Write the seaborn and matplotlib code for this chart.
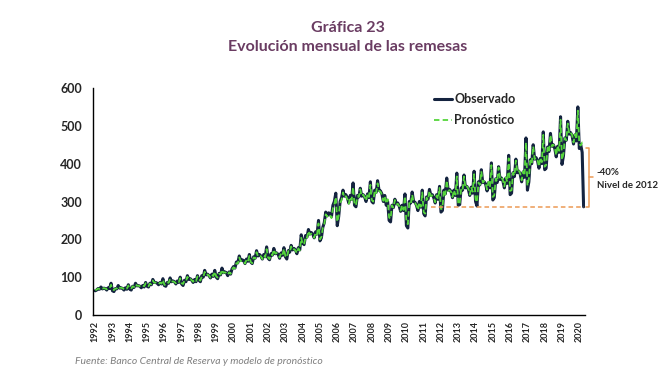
import numpy as np
import pandas as pd
import matplotlib
matplotlib.use("Agg")
import matplotlib.pyplot as plt
import seaborn as sns

# monthly remittances (millions US$), Jan..Dec
observado_por_anio = {
    1992: [64, 66, 70, 68, 74, 69, 71, 70, 66, 72, 70, 84],
    1993: [64, 62, 70, 69, 78, 71, 72, 70, 66, 72, 68, 80],
    1994: [68, 66, 76, 73, 84, 77, 78, 76, 72, 78, 74, 86],
    1995: [76, 74, 84, 80, 94, 86, 86, 84, 80, 86, 82, 96],
    1996: [78, 76, 86, 84, 98, 88, 90, 88, 82, 90, 86, 100],
    1997: [82, 78, 92, 88, 104, 94, 96, 92, 86, 94, 88, 104],
    1998: [92, 88, 104, 100, 118, 106, 108, 104, 98, 108, 102, 118],
    1999: [100, 96, 110, 106, 124, 112, 114, 112, 104, 114, 108, 122],
    2000: [128, 124, 140, 138, 156, 144, 146, 144, 136, 148, 142, 160],
    2001: [140, 136, 154, 150, 170, 156, 160, 156, 148, 160, 154, 180],
    2002: [150, 146, 162, 158, 176, 162, 164, 160, 150, 164, 158, 178],
    2003: [154, 148, 170, 166, 184, 172, 176, 172, 162, 178, 172, 212],
    2004: [190, 186, 210, 206, 226, 214, 218, 214, 204, 220, 214, 250],
    2005: [196, 204, 232, 244, 272, 262, 270, 268, 260, 290, 300, 322],
    2006: [236, 260, 300, 310, 330, 314, 318, 310, 296, 316, 306, 349],
    2007: [290, 286, 316, 312, 335, 314, 318, 312, 300, 320, 310, 352],
    2008: [300, 296, 330, 324, 355, 330, 328, 320, 300, 316, 290, 300],
    2009: [250, 246, 290, 284, 306, 294, 296, 288, 274, 290, 276, 320],
    2010: [236, 230, 300, 296, 325, 300, 298, 290, 276, 300, 285, 330],
    2011: [268, 262, 312, 306, 332, 316, 318, 310, 296, 318, 306, 340],
    2012: [272, 276, 330, 320, 362, 330, 332, 326, 310, 330, 316, 375],
    2013: [290, 292, 336, 330, 370, 336, 340, 332, 316, 338, 322, 380],
    2014: [300, 288, 352, 344, 384, 350, 352, 346, 328, 350, 336, 402],
    2015: [304, 310, 360, 350, 392, 358, 362, 354, 336, 362, 348, 422],
    2016: [318, 322, 376, 366, 412, 376, 380, 372, 352, 378, 364, 468],
    2017: [330, 352, 410, 400, 450, 412, 416, 408, 388, 414, 400, 484],
    2018: [384, 388, 444, 432, 480, 446, 450, 440, 418, 446, 430, 524],
    2019: [398, 420, 468, 462, 512, 478, 482, 474, 452, 476, 460, 550],
    2020: [440, 450, 430, 286],
}

pronostico_por_anio = {
    1992: [66, 67, 70, 69, 73, 70, 71, 70, 68, 72, 71, 80],
    1993: [68, 66, 70, 70, 76, 72, 72, 71, 68, 72, 70, 78],
    1994: [70, 69, 76, 74, 82, 77, 78, 76, 74, 78, 76, 84],
    1995: [78, 76, 83, 81, 91, 85, 86, 84, 81, 86, 83, 93],
    1996: [80, 79, 86, 85, 95, 88, 89, 87, 84, 89, 87, 97],
    1997: [84, 82, 91, 89, 101, 93, 95, 92, 88, 94, 90, 102],
    1998: [94, 91, 102, 100, 114, 105, 107, 104, 99, 107, 103, 115],
    1999: [102, 99, 109, 107, 120, 111, 113, 111, 106, 113, 109, 120],
    2000: [126, 123, 137, 136, 152, 142, 144, 142, 136, 146, 141, 156],
    2001: [140, 137, 152, 149, 166, 155, 158, 155, 148, 158, 153, 174],
    2002: [152, 148, 161, 158, 173, 162, 164, 160, 152, 163, 158, 175],
    2003: [156, 152, 169, 166, 181, 171, 174, 171, 163, 176, 171, 204],
    2004: [188, 186, 207, 204, 222, 212, 215, 212, 204, 218, 213, 242],
    2005: [200, 206, 230, 240, 266, 260, 266, 264, 256, 282, 292, 312],
    2006: [246, 262, 296, 304, 324, 310, 314, 306, 294, 312, 304, 338],
    2007: [292, 290, 314, 312, 332, 314, 318, 312, 302, 320, 312, 344],
    2008: [304, 300, 328, 322, 348, 328, 326, 318, 302, 314, 294, 306],
    2009: [258, 254, 290, 284, 304, 292, 294, 288, 276, 290, 278, 314],
    2010: [246, 240, 296, 292, 318, 298, 296, 290, 278, 298, 286, 324],
    2011: [272, 268, 310, 304, 328, 314, 316, 310, 298, 316, 306, 336],
    2012: [280, 282, 328, 318, 356, 328, 330, 326, 312, 330, 318, 366],
    2013: [292, 296, 334, 330, 366, 336, 340, 334, 318, 338, 326, 372],
    2014: [306, 298, 350, 344, 380, 350, 354, 348, 332, 352, 340, 396],
    2015: [312, 316, 360, 352, 390, 360, 364, 356, 340, 364, 352, 414],
    2016: [328, 330, 376, 368, 408, 378, 382, 374, 356, 380, 368, 456],
    2017: [342, 360, 408, 400, 446, 412, 416, 410, 392, 416, 404, 476],
    2018: [392, 396, 442, 432, 476, 446, 450, 442, 422, 448, 434, 516],
    2019: [410, 426, 468, 462, 506, 478, 482, 476, 456, 478, 464, 540],
    2020: [452, 448, 456, 455],
}

anios = list(observado_por_anio.keys())
nivel_previo = 442      # top of the bracket
inicio_nivel_2012 = 233  # month index where the orange guide starts

observado = np.concatenate([observado_por_anio[a] for a in anios])
pronostico = np.concatenate([pronostico_por_anio[a] for a in anios])
mes = np.arange(len(observado))

df = pd.DataFrame({"mes": mes, "Observado": observado, "Pronóstico": pronostico})

sns.set_style("white")
plt.rcParams["font.family"] = ["Lato", "DejaVu Sans"]

fig = plt.figure(figsize=(6.64, 3.70), dpi=100)
ax = fig.add_axes([0.1401, 0.1486, 0.7410, 0.6136])

sns.lineplot(data=df, x="mes", y="Observado", ax=ax, color="#14233f",
             linewidth=2.2, label="Observado")
sns.lineplot(data=df, x="mes", y="Pronóstico", ax=ax, color="#55d63c",
             linewidth=1.3, linestyle=(0, (3, 1.8)), label="Pronóstico")

ax.set_xlim(-1.5, 340)
ax.set_ylim(0, 600)
ax.set_yticks(range(0, 601, 100))
ax.set_xticks(np.arange(0, len(observado), 12))
ax.set_xticklabels([str(a) for a in anios], rotation=90, fontsize=6.5,
                   fontweight="bold")
ax.tick_params(axis="y", labelsize=9, length=0, pad=8)
ax.tick_params(axis="x", length=0, pad=4)
for lab in ax.get_yticklabels():
    lab.set_fontweight("bold")
ax.set_xlabel("")
ax.set_ylabel("")
for s in ["top", "right"]:
    ax.spines[s].set_visible(False)
for s in ["left", "bottom"]:
    ax.spines[s].set_color("black")
    ax.spines[s].set_linewidth(1.0)

# 2012 level guide and bracket
naranja = "#ec9a55"
ultimo = observado[-1]
ax.plot([inicio_nivel_2012, mes[-1]], [ultimo, ultimo], color=naranja,
        linewidth=1.1, linestyle=(0, (3, 2)))
bx = mes[-1] + 4
ax.plot([bx - 2.5, bx, bx, bx - 2.5], [nivel_previo, nivel_previo, ultimo, ultimo],
        color=naranja, linewidth=1.1, clip_on=False)
ymid = (nivel_previo + ultimo) / 2
ax.plot([bx, bx + 2.5], [ymid, ymid], color=naranja, linewidth=1.1, clip_on=False)
ax.text(bx + 5, ymid + 12, "-40%", fontsize=7, fontweight="bold",
        va="center", ha="left")
ax.text(bx + 5, ymid - 22, "Nivel de 2012", fontsize=7, fontweight="bold",
        va="center", ha="left")

leg = ax.legend(loc="upper left", bbox_to_anchor=(0.682, 1.0), frameon=False,
                handlelength=1.5, handletextpad=0.15, labelspacing=0.75,
                borderaxespad=0, prop={"size": 9, "weight": "bold"})

morado = "#6a3c62"
fig.text(0.524, 0.925, "Gráfica 23", ha="center", va="center", fontsize=11.5,
         fontweight="bold", color=morado)
fig.text(0.524, 0.873, "Evolución mensual de las remesas", ha="center",
         va="center", fontsize=11.5, fontweight="bold", color=morado)
fig.text(0.113, 0.022, "Fuente: Banco Central de Reserva y modelo de pronóstico",
         ha="left", va="center", fontsize=7.5, style="italic", color="#7f7f7f")

fig.savefig("out.png", dpi=100)
